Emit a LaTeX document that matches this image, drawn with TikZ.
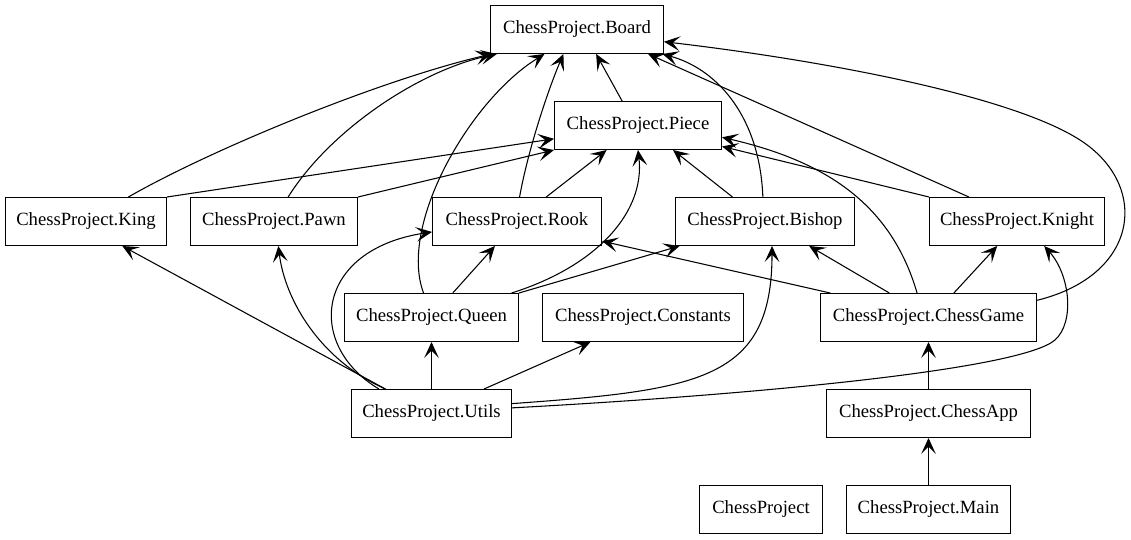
\documentclass[tikz,border=0pt]{standalone}
\usepackage{fontspec}
\setmainfont{Liberation Serif}
\usetikzlibrary{arrows.meta}

\begin{document}
\begin{tikzpicture}[
        x=0.75pt, y=-0.75pt,
        module/.style={rectangle, draw, line width=0.75pt, minimum height=36pt, inner sep=2pt, font=\fontsize{14}{16}\selectfont},
        w/.style={minimum width=#1*0.75pt},
        dep/.style={-{Stealth[length=12pt, width=11pt, inset=5.5pt]}, line width=0.8pt}
    ]
        \useasboundingbox (0,0) rectangle (1131,539);

        % modules, row by row
        \node[module, w=173] (board) at (577,29.5) {ChessProject.Board};
        \node[module, w=167] (piece) at (638,125.5) {ChessProject.Piece};
        \node[module, w=161] (king) at (86,221.5) {ChessProject.King};
        \node[module, w=167] (pawn) at (274,221.5) {ChessProject.Pawn};
        \node[module, w=169] (rook) at (517,221.5) {ChessProject.Rook};
        \node[module, w=179] (bishop) at (765,221.5) {ChessProject.Bishop};
        \node[module, w=175] (knight) at (1017,221.5) {ChessProject.Knight};
        \node[module, w=174] (queen) at (431.5,317.5) {ChessProject.Queen};
        \node[module, w=201] (constants) at (643,317.5) {ChessProject.Constants};
        \node[module, w=216] (game) at (928.5,317.5) {ChessProject.ChessGame};
        \node[module, w=160] (utils) at (431.5,413.5) {ChessProject.Utils};
        \node[module, w=204] (app) at (928.5,413.5) {ChessProject.ChessApp};
        \node[module, w=123] (project) at (761,509.5) {ChessProject};
        \node[module, w=164] (main) at (928.5,509.5) {ChessProject.Main};

        % dependencies
        \draw[dep] (piece.123) -- (board.-52);
        \draw[dep] (king.30) .. controls (210,150) and (380,80) .. (board.-164);
        \draw[dep] (king.north east) -- (piece.189);
        \draw[dep] (pawn.60) .. controls (330,130) and (420,70) .. (board.-163);
        \draw[dep] (pawn.north east) -- (piece.south west);
        \draw[dep] (rook.84) .. controls (528,150) and (548,90) .. (board.-119);
        \draw[dep] (rook.40) -- (piece.-142);
        \draw[dep] (bishop.95) .. controls (760,120) and (720,70) .. (board.-16);
        \draw[dep] (bishop.143) -- (piece.-35);
        \draw[dep] (knight.153) -- (board.-19);
        \draw[dep] (knight.north west) -- (piece.-14);
        \draw[dep] (queen.108) .. controls (398,225) and (470,100) .. (board.-143);
        \draw[dep] (queen.49) -- (rook.-132);
        \draw[dep] (queen.17) .. controls (600,265) and (645,210) .. (piece.south);
        \draw[dep] (queen.north east) -- (bishop.-164);
        \draw[dep] (game.9) .. controls (1140,275) and (1150,185) .. (1080,140)
            .. controls (1010,95) and (820,60) .. (board.-8);
        \draw[dep] (game.115) .. controls (890,200) and (820,160) .. (piece.-8);
        \draw[dep] (game.166) -- (rook.-13);
        \draw[dep] (game.148) -- (bishop.-29);
        \draw[dep] (game.44) -- (knight.-129);
        \draw[dep] (utils.152) -- (king.-34);
        \draw[dep] (utils.152) .. controls (320,360) and (285,300) .. (pawn.-80);
        \draw[dep] (utils.155) .. controls (305,345) and (315,250) .. (rook.-173);
        \draw[dep] (utils) -- (queen);
        \draw[dep] (utils.25) -- (constants.-155);
        \draw[dep] (utils.7) .. controls (700,390) and (772,380) .. (bishop.-74);
        \draw[dep] (utils.4) .. controls (750,395) and (1020,370) .. (1055,340)
            .. controls (1075,322) and (1070,275) .. (knight.-42);
        \draw[dep] (app) -- (game);
        \draw[dep] (main) -- (app);
    \end{tikzpicture}
\end{document}
